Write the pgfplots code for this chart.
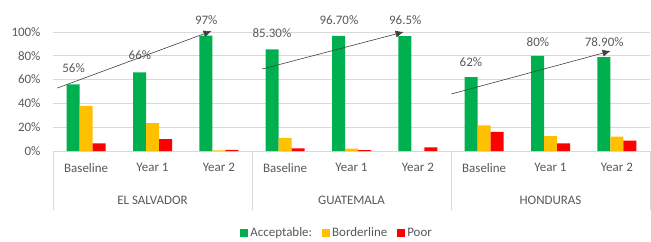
\documentclass[border=0pt]{standalone}
\usepackage{pgfplots}
\pgfplotsset{compat=1.18}
\usetikzlibrary{arrows.meta}
\usepackage{fontspec}
\setmainfont{Carlito}
\definecolor{txt}{HTML}{595959}
\definecolor{cgreen}{HTML}{00B050}
\definecolor{cyellow}{HTML}{FFC000}
\definecolor{cred}{HTML}{FF0000}
\definecolor{gridc}{HTML}{D9D9D9}
\begin{document}
\begin{tikzpicture}
\useasboundingbox (0,0) rectangle (651bp,242bp);
\begin{axis}[
  at={(53bp,91bp)}, anchor=south west,
  scale only axis, width=597bp, height=119bp,
  ymin=0, ymax=100, xmin=-0.5, xmax=8.5,
  ybar=0pt, bar width=13bp,
  ytick={0,20,40,60,80,100},
  yticklabel={\pgfmathprintnumber{\tick}\%},
  /pgf/number format/assume math mode=true,
  xtick={0,...,8},
  xticklabels={Baseline,Year 1,Year 2,Baseline,Year 1,Year 2,Baseline,Year 1,Year 2},
  major tick length=0pt,
  ymajorgrids, grid style={gridc, line width=0.8pt},
  axis x line*=bottom, axis y line*=left,
  y axis line style={draw=none},
  x axis line style={gridc, line width=0.8pt, -},
  tick label style={font=\fontsize{13}{14}\selectfont, text=txt},
  yticklabel style={xshift=-9bp},
  xticklabel style={yshift=-9bp},
  clip=false,
  legend columns=3,
  legend style={draw=none, at={(0.476,-0.689)}, anchor=center,
    font=\fontsize{13}{14}\selectfont, text=txt,
    /tikz/every even column/.append style={column sep=8bp}},
  legend image code/.code={\fill[#1] (0bp,-4bp) rectangle (8bp,4bp);},
]
\addplot[fill=cgreen, draw=none] coordinates {(0,56) (1,66) (2,97) (3,85.3) (4,96.7) (5,96.5) (6,62) (7,80) (8,78.9)};
\addplot[fill=cyellow, draw=none] coordinates {(0,38) (1,23.5) (2,0.5) (3,11) (4,2) (5,0) (6,21.5) (7,12.5) (8,12)};
\addplot[fill=cred, draw=none] coordinates {(0,6.5) (1,10) (2,1) (3,2.2) (4,0.8) (5,3) (6,16) (7,6.4) (8,8.7)};
\legend{Acceptable:,Borderline,Poor}
% separators
\draw[gridc, line width=0.8pt] (axis cs:-0.5,0) -- ([yshift=-59bp]axis cs:-0.5,0);
\draw[gridc, line width=0.8pt] (axis cs:2.5,0) -- ([yshift=-59bp]axis cs:2.5,0);
\draw[gridc, line width=0.8pt] (axis cs:5.5,0) -- ([yshift=-59bp]axis cs:5.5,0);
\draw[gridc, line width=0.8pt] (axis cs:8.5,0) -- ([yshift=-59bp]axis cs:8.5,0);
\node[text=txt, font=\fontsize{13}{14}\selectfont] at ([yshift=-49bp]axis cs:1,0) {EL SALVADOR};
\node[text=txt, font=\fontsize{13}{14}\selectfont] at ([yshift=-49bp]axis cs:4,0) {GUATEMALA};
\node[text=txt, font=\fontsize{13}{14}\selectfont] at ([yshift=-49bp]axis cs:7,0) {HONDURAS};
% value labels
\node[text=txt, font=\fontsize{13}{14}\selectfont] at (axis cs:-0.19,69.7) {56\%};
\node[text=txt, font=\fontsize{13}{14}\selectfont] at (axis cs:0.81,80.7) {66\%};
\node[text=txt, font=\fontsize{13}{14}\selectfont] at (axis cs:1.81,110) {97\%};
\node[text=txt, font=\fontsize{13}{14}\selectfont] at (axis cs:2.8,99) {85.30\%};
\node[text=txt, font=\fontsize{13}{14}\selectfont] at (axis cs:3.81,110) {96.70\%};
\node[text=txt, font=\fontsize{13}{14}\selectfont] at (axis cs:4.81,110) {96.5\%};
\node[text=txt, font=\fontsize{13}{14}\selectfont] at (axis cs:5.8,74.8) {62\%};
\node[text=txt, font=\fontsize{13}{14}\selectfont] at (axis cs:6.81,91.6) {80\%};
\node[text=txt, font=\fontsize{13}{14}\selectfont] at (axis cs:7.81,91.6) {78.90\%};
% arrows
\draw[-{Latex[length=8bp,width=7bp]}, black!75, line width=0.6pt] (axis cs:-0.435,52.9) -- (axis cs:1.89,100.8);
\draw[-{Latex[length=8bp,width=7bp]}, black!75, line width=0.6pt] (axis cs:2.655,68.9) -- (axis cs:4.785,100);
\draw[-{Latex[length=8bp,width=7bp]}, black!75, line width=0.6pt] (axis cs:5.505,47.9) -- (axis cs:7.905,84);
\end{axis}
\end{tikzpicture}
\end{document}
